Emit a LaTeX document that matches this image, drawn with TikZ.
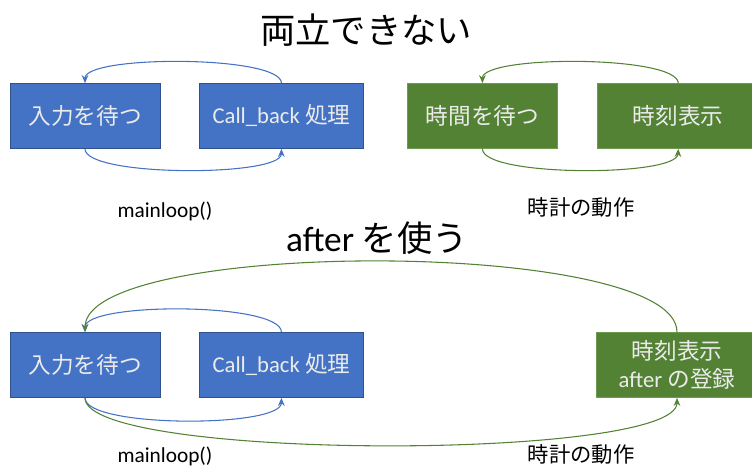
\documentclass[tikz,border=0pt]{standalone}
\usepackage{fontspec}
\setmainfont{Carlito}
\newfontfamily\jp{Noto Sans CJK JP}
\usepackage{tikz}
\usetikzlibrary{arrows.meta, positioning}

\definecolor{boxblue}{HTML}{4472C4}
\definecolor{edgeblue}{HTML}{2F528F}
\definecolor{boxgreen}{HTML}{548235}
\definecolor{edgegreen}{HTML}{6E9A50}

\begin{document}
\begin{tikzpicture}[
    x=0.75pt, y=-0.75pt,
    node distance=29pt,
    bluebox/.style={rectangle, draw=edgeblue, fill=boxblue, line width=0.6pt, text=white!92!black, minimum height=48.75pt, inner sep=0pt, font=\fontsize{17}{20.5}\selectfont, align=center},
    greenbox/.style={bluebox, draw=edgegreen, fill=boxgreen},
    title_label/.style={font=\jp\fontsize{26.5}{32}\selectfont},
    loop_label/.style={font=\fontsize{16}{19}\selectfont},
    blueflow/.style={-{Stealth[length=6pt, width=5pt]}, line width=0.8pt, draw=boxblue},
    greenflow/.style={-{Stealth[length=6pt, width=5pt]}, line width=0.8pt, draw=boxgreen}
]
    \useasboundingbox (0,0) rectangle (752,468);

    % --- Top: cannot run both ---
    \node[title_label] (title1) at (366,30) {両立できない};

    \node[bluebox, minimum width=112.5pt] (wait1) at (85,116) {\jp 入力を待つ};
    \node[bluebox, minimum width=123pt, right=of wait1] (callback1) {Call\_back {\jp 処理}};

    \node[greenbox, minimum width=113pt] (timewait) at (482.5,116) {\jp 時間を待つ};
    \node[greenbox, minimum width=121.5pt, right=of timewait] (showtime1) {\jp 時刻表示};

    \draw[blueflow] (callback1.north) .. controls (281,55) and (85,55) .. (wait1.north);
    \draw[blueflow] (wait1.south) .. controls (85,177) and (281,177) .. (callback1.south);

    \draw[greenflow] (showtime1.north) .. controls (677,55) and (482,55) .. (timewait.north);
    \draw[greenflow] (timewait.south) .. controls (482,177) and (677,177) .. (showtime1.south);

    \node[loop_label] (loop1) at (165,211) {mainloop()};
    \node[loop_label] (clock1) at (581,207) {\jp 時計の動作};

    % --- Bottom: use after ---
    \node[title_label] (title2) at (377,238) {{\fontspec{Carlito}after} を使う};

    \node[bluebox, minimum width=112.5pt] (wait2) at (85,365) {\jp 入力を待つ};
    \node[bluebox, minimum width=123pt, right=of wait2] (callback2) {Call\_back {\jp 処理}};
    \node[greenbox, minimum width=121.5pt] (showtime2) at (677,365) {{\jp 時刻表示}\\after {\jp の登録}};

    \draw[blueflow] (callback2.north) .. controls (281,302) and (85,302) .. (wait2.north);
    \draw[blueflow] (wait2.south) .. controls (85,428) and (281,428) .. (callback2.south);

    \draw[greenflow] (showtime2.north) .. controls (677,238) and (85,238) .. (wait2.north);
    \draw[greenflow] (wait2.south) .. controls (85,461) and (677,461) .. (showtime2.south);

    \node[loop_label] (loop2) at (165,456) {mainloop()};
    \node[loop_label] (clock2) at (581,454) {\jp 時計の動作};

\end{tikzpicture}
\end{document}
